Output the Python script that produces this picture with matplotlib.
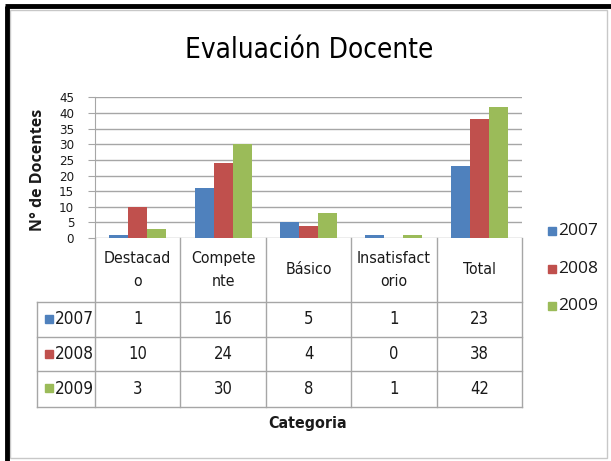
import matplotlib.pyplot as plt
import matplotlib.patches as mpatches
from matplotlib import font_manager as fm
import numpy as np

# Evaluación docente por categoría, años 2007-2009
categories = ['Destacad\no', 'Compete\nnte', 'Básico', 'Insatisfact\norio', 'Total']
years = ['2007', '2008', '2009']
v2007 = [1, 16, 5, 1, 23]
v2008 = [10, 24, 4, 0, 38]
v2009 = [3, 30, 8, 1, 42]
yticks = [0, 5, 10, 15, 20, 25, 30, 35, 40, 45]

series = [v2007, v2008, v2009]
colors = ['#4F81BD', '#C0504D', '#9BBB59']
grid_c = '#a6a6a6'
ink = '#1a1a1a'


def narrow_font():
    # pick a condensed face if one is installed, else a plain narrow-ish sans
    for f in fm.fontManager.ttflist:
        if f.name == 'Liberation Sans Narrow':
            return dict(family='Liberation Sans Narrow'), 1.0
    for f in fm.fontManager.ttflist:
        if f.name == 'DejaVu Sans' and str(f.stretch) == 'condensed':
            return dict(family='DejaVu Sans', fontstretch='condensed'), 0.95
    return dict(family='Roboto'), 0.85


NF, SC = narrow_font()

W, H = 611, 461
fig = plt.figure(figsize=(W / 100, H / 100), dpi=100)


def box(x0, y0, x1, y1):
    # pixel box, origin top-left -> figure fraction
    return [x0 / W, 1 - y1 / H, (x1 - x0) / W, (y1 - y0) / H]


# overlay in pixel units for frame, table and legend
over = fig.add_axes([0, 0, 1, 1])
over.set_xlim(0, W)
over.set_ylim(H, 0)
over.axis('off')

# frame: thick black on left/top, thin grey inner line
over.plot([6.5, 6.5], [H, 6.5], color='black', lw=3.5, solid_capstyle='butt')
over.plot([5, W], [6.5, 6.5], color='black', lw=3.5, solid_capstyle='butt')
over.add_patch(mpatches.Rectangle((10, 10), 597, 448, fill=False, ec='#c8c8c8', lw=1))

# plot area
left, right, top, bottom = 95, 522, 97.5, 238
ax = fig.add_axes(box(left, top, right, bottom))
n = len(categories)
x = np.arange(n)
w = 0.222
for i, (vals, c) in enumerate(zip(series, colors)):
    ax.bar(x + (i - 1) * w, vals, w, color=c, zorder=3)
ax.set_xlim(-0.5, n - 0.5)
ax.set_ylim(0, 45)
ax.set_yticks(yticks)
ax.set_xticks([])
ax.grid(axis='y', color=grid_c, lw=1, zorder=0)
for s in ['top', 'right', 'bottom']:
    ax.spines[s].set_visible(False)
ax.spines['left'].set_color(grid_c)
ax.tick_params(axis='y', length=5, color=grid_c, pad=10)
for t in ax.get_yticklabels():
    t.set(fontsize=10 * SC, color=ink, **NF)
ax.patch.set_alpha(0)

fig.text(38 / W, 1 - 170 / H, 'N° de Docentes', rotation=90, ha='center', va='center',
         fontsize=11.5, fontweight='bold', family='Open Sans', color=ink)
fig.text(309 / W, 1 - 50 / H, 'Evaluación Docente', ha='center', va='center',
         fontsize=21 * SC, color='black', **NF)

# data table below the axis, columns follow the bar positions
col_x = [ax.transData.transform((i, 0))[0] for i in range(n)]
edges = [ax.transData.transform((i - 0.5, 0))[0] for i in range(n + 1)]
row_y = [238, 301.7, 337, 371, 406.7]
tab_left = 37.3

for e in edges:
    over.plot([e, e], [row_y[0], row_y[-1]], color=grid_c, lw=1)
over.plot([tab_left, tab_left], [row_y[1], row_y[-1]], color=grid_c, lw=1)
for yy in row_y[1:]:
    over.plot([tab_left, edges[-1]], [yy, yy], color=grid_c, lw=1)

for cx, lab in zip(col_x, categories):
    over.text(cx, (row_y[0] + row_y[1]) / 2, lab, ha='center', va='center',
              fontsize=12 * SC, linespacing=1.7, color=ink, **NF)

for r, (yr, vals, c) in enumerate(zip(years, series, colors)):
    cy = (row_y[r + 1] + row_y[r + 2]) / 2
    over.add_patch(mpatches.Rectangle((45, cy - 4.5), 8, 8, color=c))
    over.text(55, cy, yr, ha='left', va='center', fontsize=13 * SC, color=ink, **NF)
    for cx, v in zip(col_x, vals):
        over.text(cx, cy, str(v), ha='center', va='center', fontsize=12.5 * SC,
                  color=ink, **NF)

fig.text(308 / W, 1 - 423 / H, 'Categoria', ha='center', va='center',
         fontsize=12 * SC, fontweight='bold', color=ink, **NF)

# legend
for yr, c, ly in zip(years, colors, [231, 269, 306]):
    over.add_patch(mpatches.Rectangle((548, ly - 4), 8, 8, color=c))
    over.text(558, ly, yr, ha='left', va='center', fontsize=12.5, family='Open Sans',
              color=ink)

fig.savefig('out.png', dpi=100)
